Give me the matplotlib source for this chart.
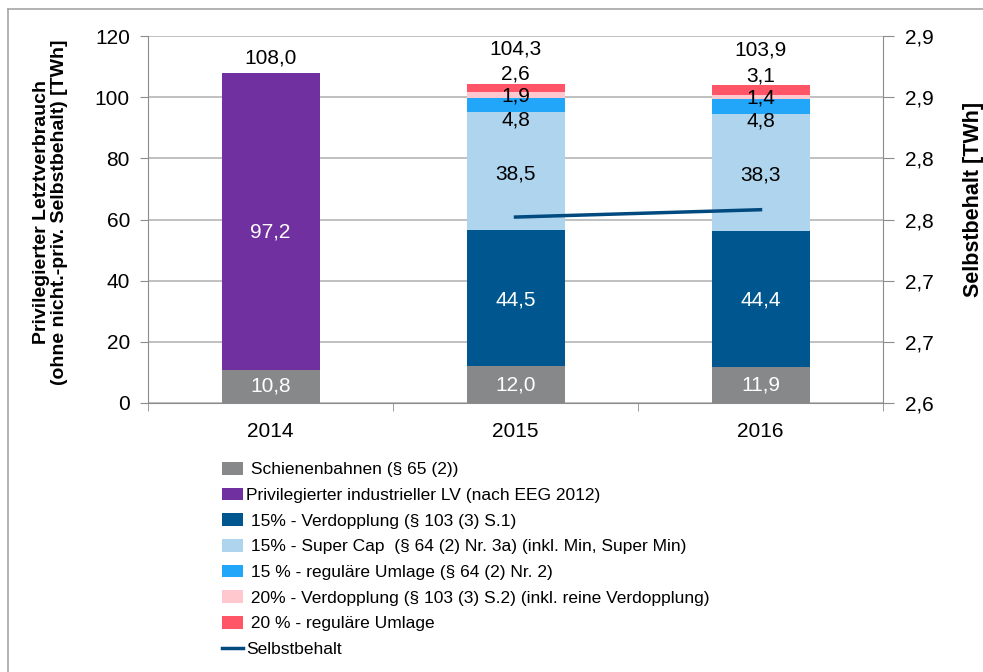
#!/usr/bin/env python3
"""Privilegierter Letztverbrauch 2014-2016 als gestapelte Saeulen plus Selbstbehalt-Linie."""

import matplotlib

matplotlib.use("Agg")
import matplotlib.pyplot as plt
import numpy as np
from matplotlib.lines import Line2D
from matplotlib.patches import Patch

plt.rcParams["font.family"] = ["Liberation Sans", "DejaVu Sans"]

YEARS = ["2014", "2015", "2016"]

# stacked segments, bottom to top (TWh); NaN = segment not present in that year
SCHIENENBAHNEN = [10.8, 12.0, 11.9]
INDUSTRIELL_2012 = [97.2, np.nan, np.nan]
VERDOPPLUNG_15 = [np.nan, 44.5, 44.4]
SUPER_CAP_15 = [np.nan, 38.5, 38.3]
REGULAER_15 = [np.nan, 4.8, 4.8]
VERDOPPLUNG_20 = [np.nan, 1.9, 1.4]
REGULAER_20 = [np.nan, 2.6, 3.1]
TOTALS = [108.0, 104.3, 103.9]

SELBSTBEHALT = [np.nan, 2.752, 2.758]  # right axis (TWh)

RIGHT_TICKS = [2.60, 2.65, 2.70, 2.75, 2.80, 2.85, 2.90]
RIGHT_TICKLABELS = ["2,6", "2,7", "2,7", "2,8", "2,8", "2,9", "2,9"]

# label, values, fill colour, data-label colour, data-label shift from segment centre
SERIES = [
    (" Schienenbahnen (§ 65 (2))", SCHIENENBAHNEN, "#87888a", "white", 0.0),
    ("Privilegierter industrieller LV (nach EEG 2012)", INDUSTRIELL_2012, "#7030a0", "white", -3.5),
    (" 15% - Verdopplung (§ 103 (3) S.1)", VERDOPPLUNG_15, "#00568f", "white", -0.5),
    (" 15% - Super Cap  (§ 64 (2) Nr. 3a) (inkl. Min, Super Min)", SUPER_CAP_15, "#aed4ee", "black", -1.0),
    (" 15 % - reguläre Umlage (§ 64 (2) Nr. 2)", REGULAER_15, "#22a6fa", "black", -4.8),
    (" 20% - Verdopplung (§ 103 (3) S.2) (inkl. reine Verdopplung)", VERDOPPLUNG_20, "#ffc7ce", "black", -0.4),
    (" 20 % - reguläre Umlage", REGULAER_20, "#ff5566", "black", 4.5),
]

GRID = "#b5b5b5"
SPINE = "#8c8c8c"
LINE_COLOR = "#004a7f"


def fmt(value: float) -> str:
    return f"{value:.1f}".replace(".", ",")


fig = plt.figure(figsize=(9.83, 6.72), dpi=100, facecolor="white")
ax = fig.add_axes([148 / 983, 1 - 403 / 672, 735 / 983, 367 / 672])
ax2 = ax.twinx()

x = np.arange(len(YEARS))
bottom = np.zeros(len(YEARS))
handles = []
for label, values, color, text_color, offset in SERIES:
    vals = np.array(values, dtype=float)
    heights = np.nan_to_num(vals)
    ax.bar(x, heights, width=0.4, bottom=bottom, color=color, zorder=2)
    for i, v in enumerate(vals):
        if np.isnan(v):
            continue
        ax.text(x[i], bottom[i] + v / 2 + offset, fmt(v), ha="center", va="center",
                fontsize=15, color=text_color, zorder=4)
    bottom = bottom + heights
    handles.append(Patch(facecolor=color, edgecolor="none", label=label))

# totals above each column
for i, total in enumerate(TOTALS):
    has_small = not np.isnan(REGULAER_20[i])
    ax.text(x[i], total + (11.5 if has_small else 4.7), fmt(total), ha="center",
            va="center", fontsize=15, color="black", zorder=4)

ax.set_xlim(-0.5, len(YEARS) - 0.5)
ax.set_ylim(0, 120)
ax.set_yticks(np.arange(0, 121, 20))
ax.set_xticks(x)
ax.set_xticklabels(YEARS)
ax.set_xticks(np.arange(-0.5, len(YEARS), 1.0), minor=True)
ax.tick_params(axis="x", which="major", length=0, labelsize=15, pad=14)
ax.tick_params(axis="x", which="minor", length=6, color=SPINE, direction="out")
ax.tick_params(axis="y", length=6, color=SPINE, labelsize=15, pad=7)
ax.grid(axis="y", color=GRID, linewidth=1.2, zorder=0)
ax.set_axisbelow(True)
for side in ["top", "right"]:
    ax.spines[side].set_visible(False)
for side in ["left", "bottom"]:
    ax.spines[side].set_color(SPINE)
ax.set_ylabel("Privilegierter Letztverbrauch\n(ohne nicht.-priv. Selbstbehalt) [TWh]",
              fontsize=14, fontweight="bold", linespacing=1.05)
ax.yaxis.set_label_coords(-0.109, 0.52)

ax2.plot(x, SELBSTBEHALT, color=LINE_COLOR, linewidth=2.5, zorder=5)
ax2.set_ylim(2.6, 2.9)
ax2.set_yticks(RIGHT_TICKS)
ax2.set_yticklabels(RIGHT_TICKLABELS)
ax2.tick_params(axis="y", length=8, color=SPINE, labelsize=15, pad=8)
for side in ["top", "left", "bottom"]:
    ax2.spines[side].set_visible(False)
ax2.spines["right"].set_color(SPINE)
ax2.set_ylabel("Selbstbehalt [TWh]", fontsize=15.5, fontweight="bold")
ax2.yaxis.set_label_coords(1.109, 0.556)

handles.append(Line2D([0], [0], color=LINE_COLOR, linewidth=2.5, label="Selbstbehalt"))
fig.legend(handles=handles, loc="upper left", bbox_to_anchor=(222 / 983, 1 - 462 / 672),
           bbox_transform=fig.transFigure, frameon=False, fontsize=12.5, borderpad=0,
           borderaxespad=0, labelspacing=0.59, handlelength=1.2, handleheight=0.75,
           handletextpad=0.2)

# outer chart-area border (only top and left edges fall inside the picture)
fig.add_artist(Line2D([8 / 983, 8 / 983], [0, 1 - 9 / 672], transform=fig.transFigure,
                      color="#a6a6a6", linewidth=1.2))
fig.add_artist(Line2D([8 / 983, 1], [1 - 9 / 672, 1 - 9 / 672], transform=fig.transFigure,
                      color="#a6a6a6", linewidth=1.2))

fig.savefig("out.png", dpi=100)
plt.close(fig)
